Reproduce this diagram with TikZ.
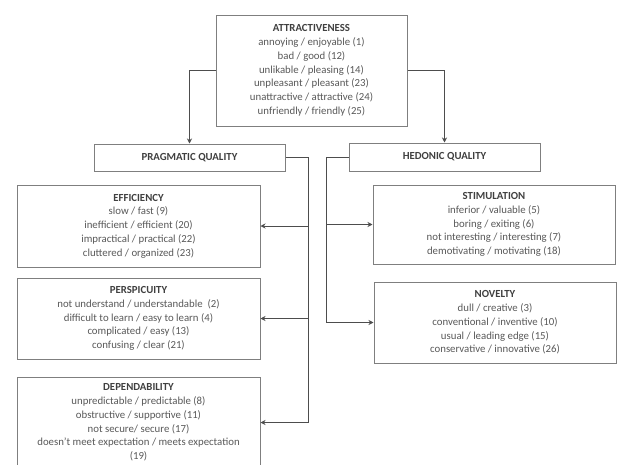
\documentclass[tikz,border=0pt]{standalone}
\usepackage{fontspec}
\setmainfont{Carlito}
\usetikzlibrary{arrows.meta}
\definecolor{boxgray}{HTML}{7F7F7F}
\definecolor{linegray}{HTML}{4D4D4D}
\definecolor{txtgray}{HTML}{595959}
\definecolor{headgray}{HTML}{404040}
\newcommand{\hd}[1]{{\bfseries\color{headgray}#1}}
\begin{document}
\begin{tikzpicture}[x=1pt, y=-1pt, >={Stealth[length=5pt, width=5pt]},
    every node/.style={draw=boxgray, line width=1pt, inner sep=0pt, align=center,
        text=txtgray, font=\fontsize{10.8}{13.8}\selectfont},
    conn/.style={draw=linegray, line width=0.9pt}]
        \useasboundingbox[fill=white] (0,0) rectangle (619,464);
        \node[minimum width=191pt, minimum height=111pt] (attr) at (311.5, 70.5) {\hd{ATTRACTIVENESS}\\ annoying / enjoyable (1)\\ bad / good (12)\\ unlikable / pleasing (14)\\ unpleasant / pleasant (23)\\ unattractive / attractive (24)\\ unfriendly / friendly (25)};
        \node[minimum width=191pt, minimum height=27pt] (prag) at (189.5, 157.5) {\hd{PRAGMATIC QUALITY}};
        \node[minimum width=191pt, minimum height=28pt] (hed) at (444.5, 157) {\hd{HEDONIC QUALITY}};
        \node[minimum width=243pt, minimum height=82pt] (eff) at (138.5, 226) {\hd{EFFICIENCY}\\ slow / fast (9)\\ inefficient / efficient (20)\\ impractical / practical (22)\\ cluttered / organized (23)};
        \node[minimum width=243pt, minimum height=81pt] (persp) at (138.5, 318.5) {\hd{PERSPICUITY}\\ not understand / understandable~ (2)\\ difficult to learn / easy to learn (4)\\ complicated / easy (13)\\ confusing / clear (21)};
        \node[minimum width=243pt, minimum height=91pt] (dep) at (138.5, 422.5) {\hd{DEPENDABILITY}\\ unpredictable / predictable (8)\\ obstructive / supportive (11)\\ not secure/ secure (17)\\ doesn't meet expectation / meets expectation\\ (19)};
        \node[minimum width=242pt, minimum height=79pt] (stim) at (494, 224.5) {\hd{STIMULATION}\\ inferior / valuable (5)\\ boring / exiting (6)\\ not interesting / interesting (7)\\ demotivating / motivating (18)};
        \node[minimum width=242pt, minimum height=81pt] (nov) at (495, 322.5) {\hd{NOVELTY}\\ dull / creative (3)\\ conventional / inventive (10)\\ usual / leading edge (15)\\ conservative / innovative (26)};
        \coordinate (pbus) at (308, 0);
        \coordinate (hbus) at (326, 0);
        % top level
        \draw[conn, ->] (attr.west) -| (prag.north);
        \draw[conn, ->] (attr.east) -| (hed.north);
        % pragmatic side
        \draw[conn, ->] (prag.east) -- (pbus |- prag.east) |- (dep.east);
        \draw[conn, ->] (pbus |- eff.east) -- (eff.east);
        \draw[conn, ->] (pbus |- persp.east) -- (persp.east);
        % hedonic side
        \draw[conn, ->] (hed.west) -- (hbus |- hed.west) |- (nov.west);
        \draw[conn, ->] (hbus |- stim.west) -- (stim.west);
    \end{tikzpicture}
\end{document}
